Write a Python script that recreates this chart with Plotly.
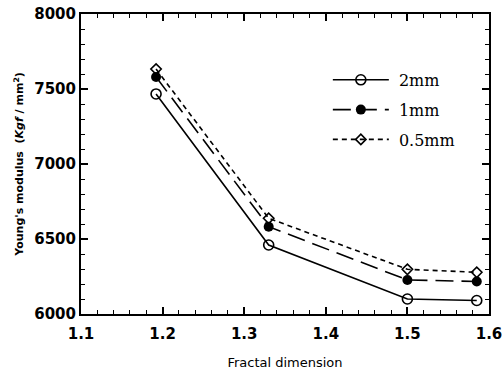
import plotly.graph_objects as go

x_vals = [1.192, 1.330, 1.500, 1.585]
y_2mm = [7467, 6460, 6100, 6090]
y_1mm = [7580, 6582, 6227, 6217]
y_05mm = [7633, 6638, 6298, 6278]
names = ["2mm", "1mm", "0.5mm"]

fig = go.Figure()
fig.add_trace(go.Scatter(x=x_vals, y=y_2mm, name="\u00a0" + names[0], legendgroup="a", mode="lines+markers",
                         line=dict(color="black", width=1.6),
                         marker=dict(symbol="circle-open", size=10, color="black", line=dict(width=1.6))))
fig.add_trace(go.Scatter(x=x_vals, y=y_1mm, name="\u00a0" + names[1], legendgroup="b", mode="lines+markers",
                         line=dict(color="black", width=1.6, dash="18px,8px"),
                         marker=dict(symbol="circle", size=10, color="black")))
fig.add_trace(go.Scatter(x=x_vals, y=y_05mm, name="\u00a0" + names[2], legendgroup="c", mode="lines+markers",
                         line=dict(color="black", width=1.6, dash="5px,4px"),
                         marker=dict(symbol="diamond-open", size=8, color="black", line=dict(width=1.6))))

tickfont = dict(family="DejaVu Sans", size=15, color="black", weight="bold")
fig.update_layout(
    width=504, height=371,
    margin=dict(l=81, r=15, t=14, b=57),
    paper_bgcolor="white", plot_bgcolor="white",
    showlegend=True,
    legend=dict(x=0.605, y=0.837, xanchor="left", yanchor="top", bgcolor="rgba(0,0,0,0)",
                font=dict(family="DejaVu Serif", size=16, color="black"),
                tracegroupgap=6, itemwidth=56),
    xaxis=dict(range=[1.1, 1.6], dtick=0.1, tickformat=".1f", showgrid=False, zeroline=False,
               automargin=False,
               showline=True, linecolor="black", linewidth=2, mirror="ticks",
               ticks="inside", ticklen=7, tickwidth=1.5, tickcolor="black",
               minor=dict(dtick=0.02, ticks="inside", ticklen=4, tickwidth=1.2, tickcolor="black"),
               tickfont=tickfont, ticklabelstandoff=5,
               title=dict(text="Fractal dimension", font=dict(family="DejaVu Sans", size=13, color="black"),
                          standoff=16)),
    yaxis=dict(range=[6000, 8000], dtick=500, showgrid=False, zeroline=False,
               automargin=False,
               showline=True, linecolor="black", linewidth=2, mirror="ticks",
               ticks="inside", ticklen=7, tickwidth=1.5, tickcolor="black",
               minor=dict(dtick=100, ticks="inside", ticklen=4, tickwidth=1.2, tickcolor="black"),
               tickfont=tickfont,
               title=dict(text="Young's modulus  (<i>Kgf</i> / mm<sup>2</sup>)",
                          font=dict(family="DejaVu Sans", size=11, color="black", weight="bold"), standoff=8)),
)
fig.write_html("out.html")
